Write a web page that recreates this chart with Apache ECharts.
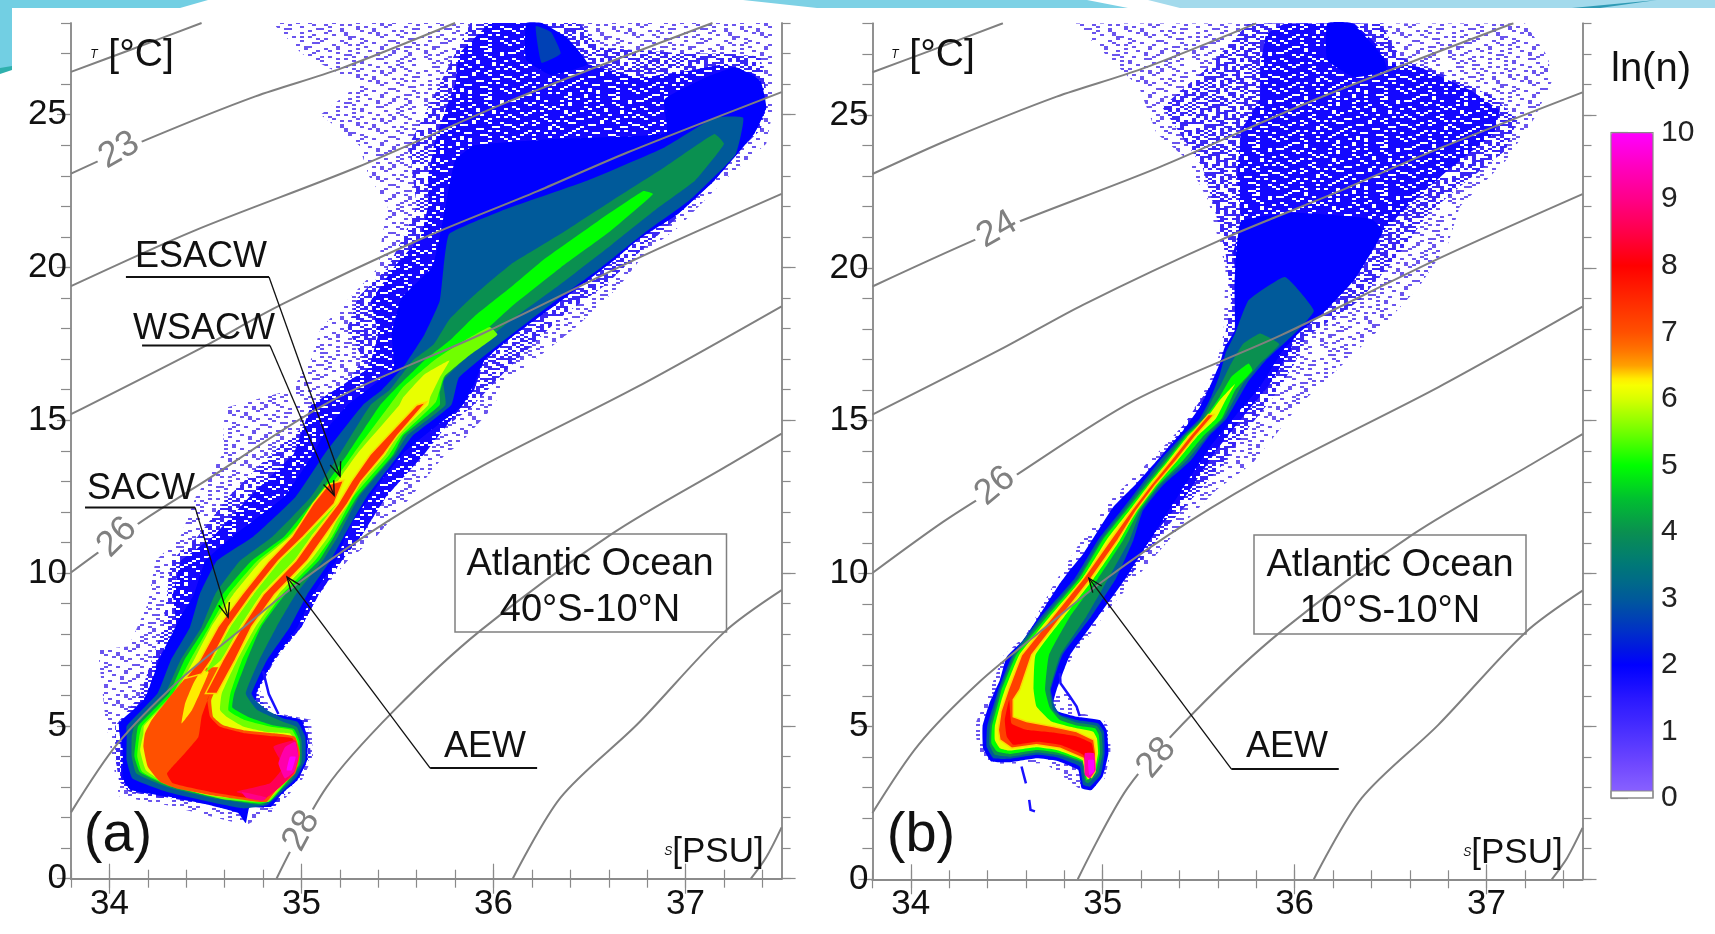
<!DOCTYPE html>
<html><head><meta charset="utf-8">
<style>html,body{margin:0;padding:0;background:#fff}#c{width:1715px;height:934px}</style>
<script src="https://cdn.jsdelivr.net/npm/echarts@6/dist/echarts.min.js"></script>
</head><body><div id="c"></div>
<script>
// ---- axis ticks ----
const sMajor=[34,35,36,37];
const sMinor=[33.8,34,34.2,34.4,34.6,34.8,35,35.2,35.4,35.6,35.8,36,36.2,36.4,36.6,36.8,37,37.2,37.4];
const tMajor=[0,5,10,15,20,25];
const tMinor=[0,1,2,3,4,5,6,7,8,9,10,11,12,13,14,15,16,17,18,19,20,21,22,23,24,25,26,27,28];
const colourStops=['#8f66ff','#7f58ff','#7048ff','#5d3cff','#4b30ff','#3a24ff','#2a18ff','#140cff','#0000ff','#0018e0','#0030c8','#0045b0','#005a9a','#006a88','#007878','#058464','#0a9050','#05a840','#00c030','#00e018','#00ff00','#38ff00','#70ff00','#a4ff00','#d8ff00','#ffff00','#ffa000','#ff7000','#ff5000','#ff3c00','#ff2800','#ff1400','#ff0000','#ff0024','#ff0048','#ff0068','#ff0088','#ff00a4','#ff00c0','#ff00e0','#ff00ff'];

// ---- isopycnals [S,T] ----
const sigma22=[[33.8,26.4],[34.1,27.1],[34.48,28]];
const sigma23=[[33.8,23.07],[34.2,24.2],[34.76,25.6],[35.2,26.5],[35.8,28]];
const sigma24=[[33.8,19.39],[34.44,21.2],[35.29,23.28],[36.09,25.46],[37.14,28]];
const sigma25=[[33.8,15.2],[34.47,17.34],[34.9,18.8],[35.61,20.9],[36.23,22.5],[36.7,23.77],[37.5,25.74]];
const sigma26=[[33.8,10.02],[34.17,11.7],[34.47,12.9],[35.16,15.65],[35.93,17.8],[36.75,20.3],[37.5,22.41]];
const sigma27=[[33.8,2.17],[34.04,4.4],[34.36,6.47],[34.68,8.13],[35,9.75],[35.45,11.7],[35.94,13.5],[36.75,16.1],[37.5,18.73]];
const sigma28=[[34.87,0],[35.13,2.99],[35.48,5.49],[35.93,8.11],[36.62,11.3],[37.23,13.56],[37.5,14.56]];
const sigma29=[[36.1,0],[36.35,2.66],[36.75,5.06],[37.2,8.06],[37.5,9.44]];
const sigma30=[[37.34,0],[37.42,0.7],[37.5,1.68]];
const isopycnals=[sigma22,sigma23,sigma24,sigma25,sigma26,sigma27,sigma28,sigma29,sigma30];

// ---- panel (a): speckled envelopes ----
const aSparse=[[34.05,2.7],[34.03,3.4],[33.98,5.2],[33.94,7.5],[34.1,7.6],[34.2,9],[34.24,10.4],[34.37,11.2],[34.45,12.5],[34.59,13.9],[34.6,15.4],[34.95,16],[35.05,17],[35.1,18],[35.25,19],[35.4,20],[35.42,21],[35.45,22],[35.35,23],[35.3,24],[35.1,25],[35.3,26],[35,27],[34.85,28],[37.45,28],[37.45,25],[37.42,24.05],[37.2,22.85],[36.96,21.3],[36.8,20.55],[36.65,19.35],[36.43,18.05],[36.25,17.15],[36.09,16.4],[35.98,15.3],[35.82,14.2],[35.75,13.9],[35.57,12.5],[35.39,11.2],[35.24,10.4],[35.09,9.3],[34.99,8.24],[34.86,7.15],[34.78,6.2],[34.85,5.5],[34.89,5.4],[35.05,5.2],[35.06,4],[35,3.2],[34.85,2.2],[34.71,1.75],[34.3,2.4]];
const aMedium=[[34.5,2.45],[34.3,2.6],[34.1,2.85],[34.05,3.2],[34.03,4],[34.03,5],[34.16,6],[34.22,7.15],[34.28,8.24],[34.3,9.3],[34.32,10.4],[34.46,11.2],[34.62,12.5],[34.84,13.9],[35.05,15],[35.21,16],[35.32,17],[35.24,18],[35.29,19],[35.45,20],[35.53,21],[35.6,22],[35.58,23],[35.56,24],[35.64,25],[35.8,27],[35.88,28],[36.45,28],[36.55,27.2],[37,27],[37.2,27],[37.39,26.9],[37.43,25.45],[37.39,24.5],[37.15,23.06],[36.96,21.65],[36.75,20.45],[36.59,19.46],[36.35,18.37],[36.19,17.4],[36.03,16.4],[35.88,15.4],[35.69,14.5],[35.64,13.9],[35.44,12.5],[35.31,11.2],[35.21,10.4],[35.09,9.3],[35,8.24],[34.86,7.15],[34.77,6.1],[34.84,5.4],[35.03,5.2],[35.05,4],[34.95,3],[34.85,2.3]];
const aDense=[[34.6,2.4],[34.35,2.6],[34.1,2.9],[34.06,3.3],[34.06,4.2],[34.05,5],[34.2,6.06],[34.25,7.15],[34.35,8.24],[34.33,9.3],[34.37,10.4],[34.54,11.2],[34.73,12.5],[34.96,13.9],[35.05,15.5],[35.35,16.7],[35.4,17.8],[35.36,18.9],[35.48,20],[35.62,21],[35.66,22],[35.66,23],[35.69,24],[35.74,25],[35.8,26],[35.82,27],[35.98,28],[36.25,28],[36.38,27.53],[36.49,26.66],[36.75,26.2],[37.02,26.44],[37.2,26.66],[37.36,26.33],[37.42,25.24],[37.36,24.4],[37.15,22.85],[36.96,21.75],[36.75,20.9],[36.62,20.2],[36.35,18.9],[36.09,17.7],[35.95,16.95],[35.9,16],[35.84,15.5],[35.64,13.9],[35.44,12.5],[35.31,11.2],[35.21,10.4],[35.09,9.3],[35,8.24],[34.855,7.15],[34.77,6.17],[34.76,5.74],[34.8,5.45],[34.89,5.35],[35,5.19],[35.03,4.63],[35.03,3.88],[34.98,3.23],[34.9,2.8],[34.84,2.35]];

// ---- panel (a): ln(n) contour bands ----
const aL2=[[34.73,2.35],[34.71,1.82],[34.67,2.15],[34.52,2.41],[34.35,2.64],[34.11,2.9],[34.07,3.33],[34.07,4.2],[34.05,5.09],[34.18,5.84],[34.26,7.15],[34.37,8.56],[34.44,9.3],[34.5,10.4],[34.64,11.2],[34.91,12.5],[35.06,13.9],[35.13,14.7],[35.24,15.5],[35.48,16.7],[35.47,17.8],[35.52,19],[35.68,20],[35.72,21],[35.75,22],[35.8,23.5],[35.9,24],[36.3,24.2],[36.9,24.4],[36.89,25.5],[37.1,26.2],[37.26,26.55],[37.39,26.1],[37.42,25.24],[37.36,24.4],[37.15,22.85],[36.96,21.75],[36.75,20.9],[36.62,20.2],[36.35,18.9],[36.09,17.7],[35.95,16.95],[35.9,16.2],[35.84,15.5],[35.64,14.5],[35.53,13.92],[35.39,12.8],[35.25,11.5],[35.18,10.4],[35.06,9.3],[34.98,8.24],[34.855,7.15],[34.77,6.17],[34.76,5.74],[34.8,5.45],[34.89,5.35],[35,5.19],[35.03,4.63],[35.03,3.88],[34.98,3.23],[34.9,2.8],[34.84,2.35]];
const aBlob=[[36.17,28],[36.25,28],[36.38,27.53],[36.49,26.66],[36.3,26.3],[36.17,26.8]];
const aBlobCore=[[36.22,27.9],[36.3,27.7],[36.35,27],[36.25,26.7]];
const aL3=[[34.7,2.3],[34.52,2.52],[34.3,2.84],[34.12,3.28],[34.09,3.88],[34.09,4.64],[34.09,5],[34.25,6.06],[34.32,7.15],[34.42,8.24],[34.47,9.3],[34.56,10.4],[34.75,11.2],[34.97,12.5],[35.12,13.9],[35.32,15.5],[35.42,16],[35.53,16.74],[35.64,17.8],[35.72,18.9],[35.74,20],[35.77,21.1],[36.09,21.97],[36.49,22.85],[36.89,23.93],[37.15,24.9],[37.3,24.9],[37.26,23.7],[37.02,22.2],[36.8,21.2],[36.56,20],[36.3,18.8],[36.03,17.5],[35.82,16.4],[35.78,15.5],[35.58,14.5],[35.51,13.9],[35.34,12.5],[35.22,11.2],[35.15,10.4],[35.03,9.3],[34.94,8.24],[34.82,7.15],[34.74,6.06],[34.76,5.84],[34.82,5.52],[34.906,5.24],[34.98,5.13],[35.02,4.64],[35.02,3.88],[34.975,3.33],[34.89,2.79],[34.82,2.41]];
const aL4=[[34.66,2.52],[34.52,2.66],[34.3,3],[34.14,3.44],[34.116,3.99],[34.116,4.64],[34.13,5],[34.29,6.06],[34.37,7.15],[34.48,8.24],[34.55,9.3],[34.68,10.4],[34.85,11.2],[35.05,12.5],[35.2,13.9],[35.36,15.5],[35.46,16],[35.58,16.96],[35.69,17.5],[35.77,18.3],[35.9,19.1],[36.09,20.1],[36.35,21.1],[36.62,22.2],[36.89,23.28],[37.15,24.37],[37.2,24.04],[37.05,22.85],[36.86,21.97],[36.62,20.77],[36.35,19.46],[36.09,18.27],[35.9,17.28],[35.74,16.3],[35.75,15.5],[35.55,14.5],[35.49,13.9],[35.3,12.5],[35.19,11.2],[35.11,10.4],[34.97,9.3],[34.87,8.24],[34.78,7.15],[34.71,6.06],[34.77,5.52],[34.906,5.13],[34.975,4.97],[35,4.53],[35,3.77],[34.94,3.17],[34.85,2.68],[34.8,2.41]];
const aL5=[[34.62,2.58],[34.52,2.7],[34.3,3.05],[34.16,3.48],[34.13,4],[34.14,4.64],[34.15,5],[34.31,6.06],[34.39,7.15],[34.5,8.24],[34.59,9.3],[34.74,10.4],[34.91,11.2],[35.08,12.5],[35.24,13.9],[35.41,15.5],[35.5,16.1],[35.64,16.96],[35.77,17.6],[35.9,18.4],[36.09,19.35],[36.27,20.3],[36.54,21.5],[36.78,22.5],[36.83,22.4],[36.59,21.1],[36.35,20],[36.09,18.7],[35.9,17.6],[35.77,16.85],[35.72,15.9],[35.72,15.5],[35.53,14.5],[35.48,13.9],[35.29,12.5],[35.17,11.2],[35.09,10.4],[34.915,9.3],[34.79,8.24],[34.715,7.15],[34.65,6.06],[34.64,5.6],[34.72,5.3],[34.85,5.02],[34.96,4.9],[34.99,4.5],[34.99,3.75],[34.93,3.2],[34.84,2.55],[34.78,2.45]];
const aL55=[[34.58,2.62],[34.3,3.08],[34.17,3.5],[34.145,4],[34.155,4.64],[34.17,5],[34.33,6.06],[34.42,7.15],[34.52,8.24],[34.62,9.3],[34.77,10.4],[34.93,11.2],[35.11,12.5],[35.27,13.9],[35.46,15.5],[35.53,16.09],[35.69,16.96],[35.82,17.5],[35.98,18.05],[36.02,17.8],[35.88,17.15],[35.74,16.4],[35.7,15.6],[35.52,14.5],[35.46,13.9],[35.27,12.5],[35.16,11.2],[35.07,10.4],[34.9,9.3],[34.78,8.24],[34.69,7.15],[34.63,6.06],[34.62,5.5],[34.7,5.2],[34.84,4.97],[34.95,4.87],[34.98,4.5],[34.98,3.72],[34.925,3.2],[34.83,2.52],[34.77,2.5]];
const aL6=[[34.524,2.72],[34.3,3.1],[34.19,3.55],[34.16,4.2],[34.177,4.75],[34.18,5],[34.34,6.06],[34.44,7.15],[34.53,8.24],[34.645,9.3],[34.79,10.4],[34.94,11.2],[35.13,12.5],[35.29,13.9],[35.51,15.5],[35.53,15.75],[35.64,16.5],[35.77,16.96],[35.72,16.4],[35.67,15.75],[35.66,15.5],[35.5,14.5],[35.44,13.9],[35.25,12.5],[35.14,11.2],[35.045,10.4],[34.88,9.3],[34.76,8.24],[34.665,7.15],[34.585,6.06],[34.576,5.52],[34.61,5.3],[34.7,4.97],[34.82,4.8],[34.94,4.75],[34.975,4.42],[34.975,3.66],[34.92,3.23],[34.82,2.52],[34.77,2.55]];
const aOrange=[[34.43,6.71],[34.394,6.55],[34.3,5.84],[34.22,5.19],[34.185,4.75],[34.177,4.32],[34.2,3.66],[34.263,3.17],[34.35,2.95],[34.524,2.74],[34.767,2.52],[34.82,2.52],[34.871,2.9],[34.967,3.44],[34.993,4.1],[34.967,4.64],[34.871,4.75],[34.697,4.86],[34.593,5.02],[34.54,5.3],[34.53,5.84],[34.56,6.3],[34.59,6.9],[34.5,6.9]];
const aStreak=[[34.48,6.82],[34.517,6.77],[34.47,6.06],[34.43,5.52],[34.376,5.08],[34.394,5.73],[34.437,6.39]];
const aRed=[[34.524,6.06],[34.48,5.3],[34.463,4.64],[34.376,3.99],[34.3,3.44],[34.33,3.12],[34.524,2.84],[34.767,2.6],[34.81,2.6],[34.862,2.95],[34.954,3.5],[34.979,4.04],[34.954,4.59],[34.854,4.66],[34.697,4.77],[34.576,4.97],[34.524,5.3],[34.51,5.84]];
const aHalo=[[34.854,4.32],[34.967,4.53],[34.984,3.99],[34.96,3.45],[34.871,2.9],[34.815,2.65],[34.663,2.84],[34.836,3.12],[34.906,3.66]];
const aPink=[[34.914,4.3],[34.967,4.48],[34.984,3.99],[34.961,3.5],[34.914,3.28],[34.88,3.77]];
const aSpot=[[34.689,2.84],[34.819,2.66],[34.798,2.55],[34.715,2.64]];
const aMagenta=[[34.94,3.99],[34.97,3.99],[34.95,3.55],[34.923,3.55]];
const aGap=[[34.5,6.75],[34.535,7.15],[34.63,8.24],[34.75,9.3],[34.89,10.4],[35.02,11.2],[35.19,12.3],[35.05,11.2],[34.96,10.4],[34.79,9.3],[34.68,8.24],[34.58,7.15]];
const aRidge1=[[34.394,6.55],[34.47,7.15],[34.565,8.24],[34.69,9.3],[34.83,10.4],[34.95,11.2],[35.06,12.27],[35.14,12.9],[35.22,13.04],[35.17,12.27],[35.01,11.2],[34.88,10.4],[34.74,9.3],[34.62,8.24],[34.53,7.15],[34.48,6.7]];
const aRidge2=[[34.5,6.06],[34.59,7.15],[34.69,8.24],[34.8,9.3],[34.97,10.4],[35.06,11.2],[35.19,12.27],[35.26,13],[35.36,13.9],[35.45,14.5],[35.6,15.5],[35.65,15.6],[35.5,14.5],[35.43,13.9],[35.31,13],[35.24,12.27],[35.12,11.2],[35.03,10.4],[34.86,9.3],[34.74,8.24],[34.655,7.15],[34.56,6.06]];
const aRing=[[34.8,6.8],[34.83,6.04],[34.88,5.39]];

// ---- panel (b): speckled envelopes ----
const bSparse=[[34.94,2.85],[34.88,2.95],[34.7,3.8],[34.42,3.78],[34.36,4],[34.33,5],[34.4,6],[34.48,7.3],[34.6,8],[34.75,9.7],[34.88,11],[35.04,12.4],[35.16,13.16],[35.3,14.04],[35.44,15],[35.54,16.1],[35.59,16.76],[35.63,17.85],[35.64,20],[35.55,22.2],[35.43,23.6],[35.28,24.4],[35.19,25.9],[34.85,28],[37.2,28],[37.32,26.9],[37.34,26.1],[37.25,24.9],[37.1,23.5],[36.86,22],[36.8,20.8],[36.65,19.4],[36.46,18.1],[36.16,16.3],[36.03,15.56],[35.92,14.7],[35.78,13.6],[35.59,12.73],[35.4,11.5],[35.18,9.9],[35.04,8.9],[34.98,8.4],[34.85,7.3],[34.78,6.74],[34.8,6.3],[34.88,5.45],[35,5.25],[35.04,4.9],[35.04,4.1],[35.01,3.3]];
const bMedium=[[34.9,9.9],[35,11],[35.6,16.5],[35.67,18.94],[35.64,20.5],[35.58,22],[35.52,23.3],[35.31,25.26],[35.55,26.57],[35.76,28],[36.46,28],[36.46,27.88],[36.55,26.9],[36.77,26.35],[37.04,25.59],[37.16,24.83],[37.1,23.85],[36.86,22.65],[36.7,21.8],[36.55,20.5],[36.34,18.94],[36.06,17.74],[36,16.87],[35.89,15.78],[35.75,14.7],[35.63,13.6],[35.49,12.62],[35.33,11.5],[35.14,9.9]];
const bDense=[[35.72,18],[35.68,20.5],[35.72,21.5],[35.7,23],[35.72,24.5],[35.82,25.5],[35.82,26.57],[35.85,27.66],[35.95,28],[36.31,28],[36.43,27.3],[36.49,26.7],[36.65,26.57],[36.92,25.8],[37.07,25.15],[37.04,24.4],[36.8,23.2],[36.62,22.2],[36.46,21.2],[36.31,19.6],[36.16,18.6]];
const bDense2=[[35.1,9.8],[35.27,11.3],[35.44,12.6],[35.6,14.1],[35.74,15.2],[35.86,16.1],[35.98,17.3],[36,17.8],[35.7,17.8],[35.3,12.6]];

// ---- panel (b): ln(n) contour bands ----
const bL2=[[34.942,2.92],[34.89,2.98],[34.872,3.58],[34.76,3.88],[34.655,3.96],[34.516,3.83],[34.42,3.85],[34.377,4.29],[34.374,5],[34.41,5.76],[34.464,6.52],[34.5,7.28],[34.586,7.83],[34.655,8.48],[34.777,9.68],[34.829,10.12],[34.9,10.66],[35.055,12.18],[35.176,12.95],[35.315,13.93],[35.42,14.69],[35.506,15.45],[35.558,16.11],[35.61,16.87],[35.636,17.41],[35.688,17.96],[35.687,19.5],[35.72,21.5],[36,21.8],[36.4,21.6],[36.46,21.2],[36.31,19.6],[36.16,18.6],[36.01,17.8],[35.94,17.31],[35.82,16.11],[35.7,15.23],[35.56,14.15],[35.4,12.62],[35.28,11.42],[35.245,11.1],[35.12,9.85],[34.976,8.6],[34.83,7.34],[34.76,6.2],[34.742,5.76],[34.768,5.49],[34.864,5.32],[34.985,5.21],[35.02,4.89],[35.03,4.12],[35,3.36]];
const bBlob=[[36.17,28],[36.3,28],[36.46,26.9],[36.48,26.46],[36.31,26.24],[36.17,26.8]];
const bL3=[[34.933,3.03],[34.898,3.09],[34.88,3.69],[34.76,3.99],[34.655,4.07],[34.516,3.94],[34.43,3.96],[34.395,4.34],[34.398,5],[34.44,5.87],[34.456,6.2],[34.53,7.34],[34.68,8.6],[34.855,9.85],[34.976,11.1],[35.098,12.07],[35.2,12.9],[35.3,13.71],[35.41,14.47],[35.506,15.07],[35.567,15.8],[35.61,16.5],[35.64,17.2],[35.69,17.85],[35.76,18.94],[35.95,19.7],[36.1,18.6],[36,17.85],[35.85,16.98],[35.76,16.3],[35.645,15.07],[35.55,14.47],[35.46,13.71],[35.315,12.9],[35.21,12.07],[35.16,11.1],[35.07,9.85],[34.94,8.6],[34.79,7.34],[34.73,6.2],[34.75,5.65],[34.777,5.38],[34.864,5.21],[34.976,5.1],[35.006,4.83],[35.01,4.12],[34.99,3.42]];
const bL4=[[34.924,3.14],[34.907,3.2],[34.89,3.8],[34.76,4.07],[34.655,4.15],[34.516,4.01],[34.438,4.07],[34.41,4.4],[34.412,5],[34.45,5.87],[34.465,6.2],[34.54,7.34],[34.695,8.6],[34.87,9.85],[34.99,11.1],[35.112,12.07],[35.215,12.9],[35.32,13.71],[35.42,14.47],[35.52,15.07],[35.58,15.8],[35.61,16.1],[35.66,16.76],[35.73,17.5],[35.82,17.85],[35.92,17.5],[35.82,16.87],[35.73,16.2],[35.63,15.07],[35.54,14.47],[35.44,13.71],[35.3,12.9],[35.2,12.07],[35.14,11.1],[35.03,9.85],[34.915,8.6],[34.78,7.34],[34.725,6.2],[34.742,5.54],[34.785,5.32],[34.864,5.13],[34.968,5.02],[34.994,4.78],[35,4.12],[34.976,3.47]];
const bL5=[[34.916,3.23],[34.912,3.3],[34.895,3.85],[34.76,4.15],[34.655,4.23],[34.516,4.1],[34.45,4.18],[34.42,4.45],[34.423,5],[34.46,5.87],[34.473,6.2],[34.55,7.34],[34.71,8.6],[34.88,9.85],[35,11.1],[35.124,12.07],[35.23,12.9],[35.335,13.71],[35.43,14.47],[35.53,15.07],[35.61,15.78],[35.67,16.43],[35.76,16.87],[35.78,16.65],[35.69,16],[35.62,15.07],[35.52,14.47],[35.42,13.71],[35.29,12.9],[35.19,12.07],[35.107,11.1],[34.976,9.85],[34.83,8.6],[34.72,7.34],[34.7,6.2],[34.725,5.6],[34.777,5.21],[34.864,5.03],[34.96,4.94],[34.98,4.72],[34.985,4.12],[34.964,3.52]];
const bL6=[[34.924,3.27],[34.907,3.47],[34.895,3.9],[34.76,4.23],[34.655,4.32],[34.516,4.21],[34.464,4.29],[34.438,4.56],[34.438,5],[34.473,5.87],[34.49,6.2],[34.565,7.34],[34.725,8.6],[34.895,9.85],[35.02,11.1],[35.14,12.07],[35.24,12.9],[35.345,13.71],[35.44,14.47],[35.54,15.07],[35.61,15.67],[35.69,16.2],[35.64,15.67],[35.59,15.07],[35.49,14.47],[35.39,13.71],[35.27,12.9],[35.176,12.07],[35.09,11.1],[34.954,9.85],[34.8,8.6],[34.65,7.34],[34.64,6.2],[34.655,5.65],[34.733,5.16],[34.864,4.94],[34.95,4.83],[34.97,4.61],[34.976,4.12],[34.954,3.47]];
const bRidge=[[35.55,15.2],[35.45,14.47],[35.355,13.71],[35.25,12.9],[35.15,12.07],[35.04,11.1],[34.9,9.85],[34.74,8.6],[34.577,7.34],[34.508,6.2],[34.47,5.5],[34.456,4.89],[34.464,4.56],[34.525,4.29],[34.655,4.4],[34.777,4.29],[34.898,3.96],[34.916,3.52],[34.942,3.34],[34.96,3.52],[34.964,4.12],[34.954,4.56],[34.864,4.83],[34.742,5],[34.603,5.16],[34.534,5.32],[34.534,5.87],[34.568,6.2],[34.63,7.34],[34.785,8.6],[34.94,9.85],[35.08,11.1],[35.176,12.07],[35.275,12.9],[35.385,13.71],[35.48,14.47],[35.58,15.2]];
const bRed=[[34.49,5.21],[34.5,4.67],[34.534,4.4],[34.655,4.5],[34.777,4.4],[34.898,4.07],[34.924,3.58],[34.954,3.69],[34.954,4.12],[34.942,4.45],[34.864,4.67],[34.742,4.8],[34.603,4.89],[34.525,5.1],[34.513,5.87]];
const bPink=[[34.907,4.12],[34.954,4.12],[34.964,3.58],[34.933,3.3],[34.907,3.41]];
const bMagenta=[[34.924,3.9],[34.954,3.9],[34.954,3.52],[34.93,3.41]];
const bRing=[[34.777,6.74],[34.78,6.41],[34.829,5.98],[34.864,5.65],[34.88,5.34]];
const bSpeck1=[[34.577,3.69],[34.586,3.47],[34.6,3.14]];
const bSpeck2=[[34.617,2.6],[34.624,2.27],[34.647,2.22]];

const aEnvelopes=[aSparse,aMedium,aDense];
const bEnvelopes=[bSparse,bMedium,bDense,bDense2];
const aBands=[aL2,aBlob,aBlobCore,aL3,aL4,aL5,aL55,aL6,aOrange,aStreak,aRed,aHalo,aPink,aSpot,aMagenta,aGap,aRidge1,aRidge2];
const aLevels=[2,2,2.7,3,4,5,5.5,6.1,7,6.3,7.9,8.6,9.3,9,10,5.5,7.3,7.3];
const bBands=[bL2,bBlob,bL3,bL4,bL5,bL6,bRidge,bRed,bPink,bMagenta];
const bLevels=[2,2,3,4,5,6.1,7.2,8,9.3,10];
const aThinLines=[aRing];
const bThinLines=[bRing,bSpeck1,bSpeck2];

// ---- annotations (text, leader [S,T]) ----
const aNotes=[
 {text:'ESACW',at:[34.477,20.33],leader:[[34.086,19.69],[34.831,19.69],[35.201,13.17]]},
 {text:'WSACW',at:[34.493,18],leader:[[34.17,17.45],[34.836,17.45],[35.17,12.55]]},
 {text:'SACW',at:[34.165,12.74],leader:[[33.873,12.15],[34.446,12.15],[34.618,8.56]]},
 {text:'AEW',at:[35.956,4.31],leader:[[36.227,3.62],[35.67,3.62],[34.925,9.87]]}];
const bNotes=[{text:'AEW',at:[35.96,4.32],leader:[[36.23,3.61],[35.67,3.61],[34.928,9.85]]}];
const aSigmaLabels=[{text:'23',at:[34.05,23.83],rot:30},{text:'26',at:[34.04,11.17],rot:45},{text:'28',at:[35,1.57],rot:62}];
const bSigmaLabels=[{text:'24',at:[34.45,21.25],rot:30},{text:'26',at:[34.44,12.86],rot:40},{text:'28',at:[35.28,3.97],rot:50}];

// speckle tile: rank of each cell, lower ranks appear in sparser fringes
const speckleRanks=[
'73916284057318264095183740926351','28064193750462918307546129830476','95137402861795024638197250463918','40682915736140857293640178352906',
'16459038271682930415768203914567','83720561949057314682091547386210','59204716383921460578362914075683','07361829546708152934075863192745',
'64819350272539680147925306481972','31590764826410973526180492735608','92047138565283741609453716028394','48163205970671529840326951874130',
'70325946183948062175619028437561','15786092434126895307248561903872','36942871059573410268917340562189','82051463796860327914503672189045',
'49673120585194738062461895320716','03518796247326095481730264958613','67290354819051846327985103746280','24865901736748219053642198075364',
'91034672582093561748207456913825','58712940367465103829581632047196','12647385091832974650396071825459','76389015424501836792164589302741'];
const speckleCellW=4, speckleCellH=2;
function makeTile(maxRank,colour){
  const c=document.createElement('canvas');
  c.width=speckleRanks[0].length*speckleCellW; c.height=speckleRanks.length*speckleCellH;
  const g=c.getContext('2d'); g.fillStyle=colour;
  speckleRanks.forEach((row,y)=>{for(let x=0;x<row.length;x++){ if(+row[x]<=maxRank) g.fillRect(x*speckleCellW,y*speckleCellH,speckleCellW,speckleCellH);}});
  return c;
}
const tileSparse=makeTile(1,'#6a55ee'), tileMedium=makeTile(4,'#3a28f5'), tileDense=makeTile(7,'#1408ff');
const aTiles=[tileSparse,tileMedium,tileDense], bTiles=[tileSparse,tileMedium,tileDense,tileDense];

const GREY='#8a8a8a', INK='#111', FONT='"Liberation Sans", Arial, sans-serif';
const axisLine={show:true,lineStyle:{color:GREY,width:1.5}};
const tick=(len,vals)=>({show:true,length:len,customValues:vals,lineStyle:{color:GREY,width:1.2}});
function axesFor(g){
  const x=(pos,len,vals,lab)=>({gridIndex:g,type:'value',min:33.8,max:37.5,position:pos,splitLine:{show:false},axisLine,axisTick:tick(len,vals),
    axisLabel:lab?{show:true,customValues:vals,fontSize:35,fontFamily:FONT,color:INK,margin:8}:{show:false}});
  const y=(pos,len,vals,lab)=>({gridIndex:g,type:'value',min:0,max:28,position:pos,splitLine:{show:false},axisLine,axisTick:tick(len,vals),
    axisLabel:lab?{show:true,customValues:vals,fontSize:35,fontFamily:FONT,color:INK,margin:4}:{show:false}});
  return {
    x:[x('bottom',15,sMajor,true),x('bottom',9,sMinor,false),x('top',15,sMajor,false),x('top',9,sMinor,false)],
    y:[y('left',14,tMajor,true),y('left',10,tMinor,false),y('right',14,tMajor,false),y('right',9,tMinor,false)]};
}
const A0=axesFor(0),A1=axesFor(1);
const xAxes=[...A0.x,...A1.x,{gridIndex:2,type:'value',show:false,min:0,max:1}];
const yAxes=[...A0.y,...A1.y,{gridIndex:2,type:'value',min:0,max:10,interval:1,position:'right',splitLine:{show:false},
  axisLine:{show:false},axisTick:{show:true,length:17,lineStyle:{color:GREY,width:1.2}},axisLabel:{show:true,fontSize:30,fontFamily:FONT,color:'#222',margin:8}}];

function envelopeSeries(polys,tiles,ai){return {type:'custom',coordinateSystem:'cartesian2d',xAxisIndex:ai,yAxisIndex:ai,silent:true,z:1,clip:true,
  data:polys.map((p,i)=>[i]),
  renderItem(params,api){const i=api.value(0);
    return {type:'polygon',z2:i,shape:{points:polys[i].map(p=>api.coord(p))},style:{fill:{image:tiles[i],repeat:'repeat'}}};}};}
function bandSeries(polys,levels,ai){return {type:'custom',coordinateSystem:'cartesian2d',xAxisIndex:ai,yAxisIndex:ai,silent:true,z:2,clip:false,
  data:polys.map((p,i)=>[i,levels[i]]),dimensions:['band','level'],encode:{tooltip:1},
  renderItem(params,api){const i=api.value(0);const ridge=levels[i]>=7.2&&levels[i]<=7.3;
    return {type:'polygon',z2:i,shape:{points:polys[i].map(p=>api.coord(p)),smooth:ridge?0:0.12},
      style:{fill:api.visual('color'),stroke:ridge?'#ffd800':null,lineWidth:ridge?1.5:0}};}};}
function thinSeries(lines,ai){return {type:'custom',coordinateSystem:'cartesian2d',xAxisIndex:ai,yAxisIndex:ai,silent:true,z:2,clip:false,
  data:lines.map((p,i)=>[i]),
  renderItem(params,api){return {type:'polyline',shape:{points:lines[api.value(0)].map(p=>api.coord(p))},style:{fill:null,stroke:'#1a10ff',lineWidth:2.5}};}};}
function isoSeries(ai){return isopycnals.map(c=>({type:'line',xAxisIndex:ai,yAxisIndex:ai,data:c,showSymbol:false,symbol:'none',smooth:0.3,silent:true,z:4,
  lineStyle:{color:'#808080',width:2},animation:false}));}
function sigmaLabelSeries(labels,ai){return {type:'custom',coordinateSystem:'cartesian2d',xAxisIndex:ai,yAxisIndex:ai,silent:true,z:5,clip:false,
  data:labels.map((p,i)=>[i]),
  renderItem(params,api){const l=labels[api.value(0)];const c=api.coord(l.at);
    return {type:'text',x:c[0],y:c[1],rotation:l.rot*Math.PI/180,style:{text:l.text,font:'36px '+FONT,fill:'#808080',align:'center',verticalAlign:'middle',backgroundColor:'#fff',padding:[0,4]}};}};}
function noteSeries(notes,ai){return {type:'custom',coordinateSystem:'cartesian2d',xAxisIndex:ai,yAxisIndex:ai,silent:true,z:6,clip:false,
  data:notes.map((p,i)=>[i]),
  renderItem(params,api){const n=notes[api.value(0)];const pts=n.leader.map(p=>api.coord(p));const c=api.coord(n.at);
    const tip=pts[pts.length-1],prev=pts[pts.length-2];const ang=Math.atan2(prev[1]-tip[1],prev[0]-tip[0]);const L=15,w=0.38;
    const barb=s=>[tip[0]+L*Math.cos(ang+s*w),tip[1]+L*Math.sin(ang+s*w)];
    return {type:'group',children:[
      {type:'polyline',shape:{points:pts.slice(0,2)},style:{fill:null,stroke:'#111',lineWidth:2}},
      {type:'polyline',shape:{points:pts.slice(1)},style:{fill:null,stroke:'#111',lineWidth:1.3}},
      {type:'polyline',shape:{points:[barb(1),tip,barb(-1)]},style:{fill:null,stroke:'#111',lineWidth:1.4}},
      {type:'text',x:c[0],y:c[1],style:{text:n.text,font:'36px '+FONT,fill:'#111',align:'center',verticalAlign:'middle'}}]};}};}

const series=[envelopeSeries(aEnvelopes,aTiles,0),envelopeSeries(bEnvelopes,bTiles,4),
  bandSeries(aBands,aLevels,0),bandSeries(bBands,bLevels,4),
  thinSeries(aThinLines,0),thinSeries(bThinLines,4),
  ...isoSeries(0),...isoSeries(4),
  sigmaLabelSeries(aSigmaLabels,0),sigmaLabelSeries(bSigmaLabels,4),
  noteSeries(aNotes,0),noteSeries(bNotes,4)];

const txt=(x,y,text,size,extra)=>({type:'text',x,y,z:20,silent:true,style:Object.assign({text,font:size+'px '+FONT,fill:'#111',align:'center',verticalAlign:'middle'},extra||{})});
const rich={i:{fontStyle:'italic',fontFamily:FONT}};
const poly=(pts,fill)=>({type:'polygon',z:-5,silent:true,shape:{points:pts},style:{fill}});
const graphicEls=[
  poly([[0,0],[208,0],[180,8],[12,8],[12,68],[0,72]],'#72cfe3'),
  poly([[0,68],[12,66],[12,70],[0,74]],'#2fb0ad'),
  poly([[743,0],[1087,0],[1128,8],[817,8]],'#7dd1e5'),
  poly([[1148,0],[1715,0],[1715,8],[1180,8]],'#a3daec'),
  poly([[1572,8],[1657,0],[1600,8]],'#2f9bb5'),
  {type:'rect',z:20,silent:true,shape:{x:455,y:534,width:271.5,height:98},style:{fill:null,stroke:'#808080',lineWidth:1.5}},
  {type:'rect',z:20,silent:true,shape:{x:1254,y:535,width:272,height:99},style:{fill:null,stroke:'#808080',lineWidth:1.5}},
  txt(590,565,'Atlantic Ocean',38),txt(590,611,'40°S-10°N',38),
  txt(1390,566,'Atlantic Ocean',38),txt(1390,612,'10°S-10°N',38),
  txt(118,836,'(a)',56),txt(921,836,'(b)',56),
  txt(132,55,'{i|T} [°C]',39,{rich}),txt(933,55,'{i|T} [°C]',39,{rich}),
  txt(714,852,'{i|S}[PSU]',35,{rich}),txt(1513,853,'{i|S}[PSU]',35,{rich}),
  txt(1651,70,'ln(n)',40),
  {type:'rect',z:20,silent:true,shape:{x:1611,y:791,width:42,height:7},style:{fill:'#fff',stroke:GREY,lineWidth:1.2}},
  {type:'rect',z:20,silent:true,shape:{x:1611,y:132.7,width:42,height:665.3},style:{fill:null,stroke:GREY,lineWidth:1.2}}
];

const chart=echarts.init(document.getElementById('c'),null,{renderer:'canvas'});
chart.setOption({
  animation:false,backgroundColor:'#fff',
  grid:[{left:71,width:710.6,top:23,height:855.7},{left:872.4,width:710.1,top:23.3,height:856},{left:1611,width:42,top:132.7,height:665.3}],
  xAxis:xAxes,yAxis:yAxes,
  visualMap:{type:'continuous',min:0,max:10,seriesIndex:[2,3],dimension:1,calculable:false,hoverLink:false,realtime:false,
    left:1611,top:132.7,padding:0,itemWidth:42,itemHeight:665.3,text:null,showLabel:false,inRange:{color:colourStops},textStyle:{color:'rgba(0,0,0,0)',fontSize:1}},
  series,graphic:{elements:graphicEls}
});
</script></body></html>
